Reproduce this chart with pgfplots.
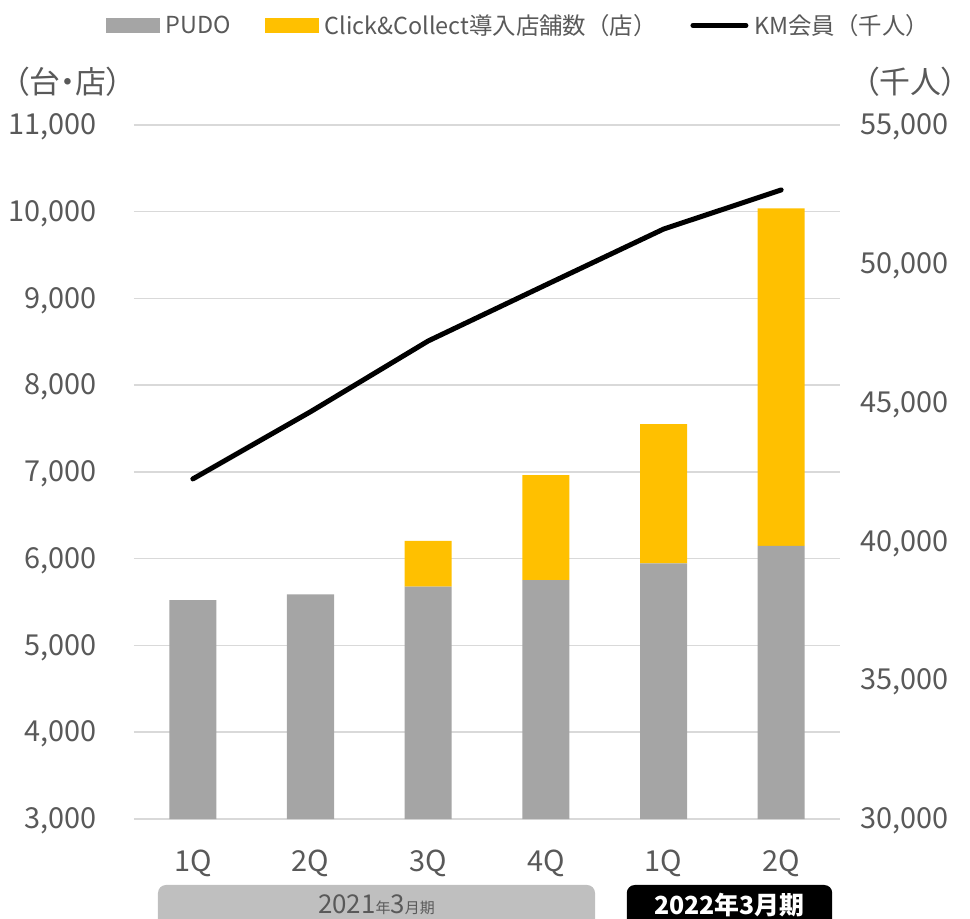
\documentclass[border=0pt]{standalone}
\usepackage{fontspec}
\setmainfont{Noto Sans CJK JP}
\usepackage{pgfplots}
\usepackage{pgfplotstable}
\pgfplotsset{compat=1.18}

\definecolor{pudo}{HTML}{A5A5A5}
\definecolor{cc}{HTML}{FFC000}
\definecolor{gridc}{HTML}{D9D9D9}
\definecolor{txt}{HTML}{595959}
\definecolor{boxgray}{HTML}{BFBFBF}

% quarter, PUDO, Click&Collect, KM members (thousand)
\pgfplotstableread{
q pudo cc km
0 5524 0 42250
1 5590 0 44670
2 5678 527 47220
3 5755 1210 49240
4 5947 1606 51250
5 6147 3893 52660
}\datatable

\pgfplotsset{
  base/.style={
    scale only axis, width=706bp, height=694bp,
    xmin=-0.5, xmax=5.5,
    axis line style={draw=none},
    major tick length=0,
    tick label style={font=\fontsize{29}{34}\selectfont, text=txt},
    /pgf/number format/assume math mode=true,
    /pgf/number format/1000 sep={,},
    scaled y ticks=false,
  }
}

\begin{document}
\begin{tikzpicture}
\begin{axis}[base,
    ybar stacked, bar width=47bp,
    ymin=3000, ymax=11000, ytick distance=1000,
    ymajorgrids, grid style={gridc, line width=1.5bp},
    xtick={0,...,5}, xticklabels={1Q,2Q,3Q,4Q,1Q,2Q},
    xticklabel style={yshift=-27bp},
    yticklabel style={xshift=-34bp, yshift=-2bp},
  ]
  \addplot[fill=pudo, draw=none] table[x=q, y=pudo] {\datatable};
  \addplot[fill=cc, draw=none] table[x=q, y=cc] {\datatable};
\end{axis}

\begin{axis}[base,
    axis x line=none,
    axis y line*=right,
    ymin=30000, ymax=55000, ytick distance=5000,
    yticklabel style={xshift=17bp, yshift=-2bp},
    clip=false,
    legend style={at={(0.545,1.165)}, anchor=north, draw=none, fill=none,
      legend columns=3, font=\fontsize{23.5}{27}\selectfont, text=txt,
      /tikz/every odd column/.append style={column sep=4bp},
      /tikz/every even column/.append style={column sep=32bp}},
  ]
  \addlegendimage{legend image code/.code={\fill[pudo] (0bp,-7bp) rectangle (53bp,7bp);}}
  \addlegendentry{PUDO}
  \addlegendimage{legend image code/.code={\fill[cc] (0bp,-7bp) rectangle (53bp,7bp);}}
  \addlegendentry{Click\&Collect導入店舗数（店）}
  \addplot[black, line width=5bp, line cap=round, line join=round,
    legend image code/.code={\draw[black, line width=5bp, line cap=round] (0bp,0bp) -- (53bp,0bp);}]
    table[x=q, y=km] {\datatable};
  \addlegendentry{KM会員（千人）}

  \node[text=txt, inner sep=0pt, font=\fontsize{31}{36}\selectfont\addfontfeatures{RawFeature=+palt}]
    at (rel axis cs:-0.094,1.062) {（台・店）};
  \node[text=txt, inner sep=0pt, font=\fontsize{31}{36}\selectfont\addfontfeatures{RawFeature=+palt}]
    at (rel axis cs:1.10,1.062) {（千人）};

  \fill[boxgray] (rel axis cs:0.034,-0.16) [rounded corners=8bp] -- (rel axis cs:0.034,-0.0951)
    -- (rel axis cs:0.653,-0.0951) [sharp corners] -- (rel axis cs:0.653,-0.16) -- cycle;
  \fill[black] (rel axis cs:0.698,-0.16) [rounded corners=8bp] -- (rel axis cs:0.698,-0.0951)
    -- (rel axis cs:0.989,-0.0951) [sharp corners] -- (rel axis cs:0.989,-0.16) -- cycle;
  \node[text=txt, font=\fontsize{26}{30}\selectfont] at (rel axis cs:0.3435,-0.124)
    {2021{\fontsize{15}{18}\selectfont 年}3{\fontsize{15}{18}\selectfont 月期}};
  \node[text=white, font=\fontsize{25}{30}\selectfont\bfseries] at (rel axis cs:0.8435,-0.124)
    {2022年3月期};
\end{axis}
\pgfresetboundingbox
\path (-134bp,-100bp) rectangle (836bp,819bp);
\end{tikzpicture}
\end{document}
